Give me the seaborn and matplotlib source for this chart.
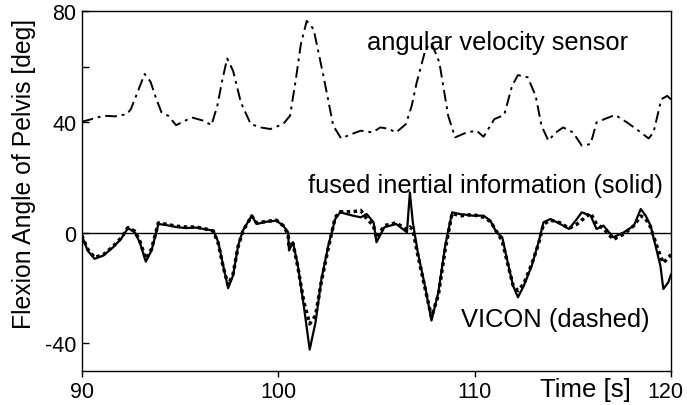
import matplotlib
matplotlib.use("Agg")
import matplotlib.pyplot as plt
import matplotlib.transforms as mtransforms
import seaborn as sns
import pandas as pd

# Angular velocity sensor estimate of pelvis flexion (dash-dot trace)
sensor_time = [90.0, 90.5, 91.1, 91.7, 92.3, 92.5, 92.8, 93.2, 93.5, 93.8, 94.06, 94.4, 94.8,
               95.2, 95.6, 96.2, 96.6, 96.9, 97.15, 97.4, 97.7, 98.1, 98.6, 99.1, 99.6, 100.25,
               100.6, 100.9, 101.15, 101.45, 101.8, 102.3, 102.8, 103.2, 103.7, 104.2, 104.8,
               105.2, 105.6, 106.0, 106.5, 106.8, 107.05, 107.5, 107.8, 108.2, 108.65, 109.0,
               109.6, 110.1, 110.45, 111.0, 111.5, 111.9, 112.2, 112.7, 113.1, 113.4, 113.75,
               114.1, 114.5, 115.0, 115.45, 115.9, 116.2, 116.6, 117.15, 117.75, 118.3, 118.85,
               119.1, 119.5, 119.8, 120.0]
sensor_angle = [40.0, 41.0, 42.2, 42.0, 42.8, 44.6, 50.0, 57.3, 54.5, 48.2, 43.4, 42.2, 38.8,
                40.2, 41.6, 40.4, 38.8, 45.8, 55.0, 62.9, 58.5, 47.0, 39.2, 38.0, 37.4, 39.2,
                42.2, 55.5, 68.0, 76.5, 73.5, 56.6, 38.6, 34.0, 35.5, 36.8, 36.2,
                38.0, 37.5, 36.2, 39.2, 46.0, 54.3, 66.3, 68.5, 61.5, 42.2, 34.4,
                36.2, 36.8, 34.6, 41.0, 42.5, 53.0, 56.9, 56.1, 49.4, 38.6, 33.2,
                36.0, 38.0, 36.2, 31.4, 32.0, 39.8, 41.0, 42.5, 39.8, 37.0, 34.0,
                36.2, 48.2, 49.4, 48.0]

# Fused inertial estimate (solid) and VICON reference (dotted), shared time base
fused_time = [90.0, 90.3, 90.65, 91.1, 91.6, 92.0, 92.35, 92.7, 92.95, 93.26, 93.55, 93.9,
              94.3, 94.8, 95.3, 95.8, 96.2, 96.7, 96.95, 97.2, 97.45, 97.7, 97.96, 98.2,
              98.65, 98.9, 99.4, 99.9, 100.25, 100.5, 100.55, 100.75, 101.0, 101.3, 101.6,
              101.9, 102.2, 102.55, 102.9, 103.15, 103.8, 104.2, 104.5, 104.85, 105.0,
              105.4, 106.0, 106.55, 106.7, 106.85, 107.1, 107.5, 107.8, 108.15, 108.5,
              108.85, 109.25, 109.9, 110.45, 110.8, 111.1, 111.4, 111.6, 111.95, 112.2,
              112.5, 112.9, 113.25, 113.5, 113.85, 114.35, 114.8, 115.2, 115.45, 115.9,
              116.2, 116.55, 117.05, 117.6, 118.1, 118.45, 118.7, 118.95, 119.2, 119.45,
              119.6, 119.85, 120.0]
fused_angle = [-1.0, -6.5, -9.5, -8.3, -5.3, -2.3, 1.6, 0.1, -3.5, -10.5, -6.5, 3.1,
               2.7, 2.0, 1.6, 1.8, 1.3, 0.7, -3.5, -12.0, -20.1, -15.5, -4.7, 0.7,
               6.1, 3.1, 3.9, 4.3, 2.5, 0.1, -6.5, -3.5, -12.0, -26.4, -42.3,
               -32.4, -16.8, -4.7, 4.9, 7.3, 6.1, 5.5, 6.7, 3.7, -3.5,
               1.9, 3.1, 0.1, 14.5, 3.7, -7.1, -20.4, -31.8, -21.6, -4.7,
               7.3, 6.7, 6.1, 6.1, 4.3, 0.1, -1.7, -8.3, -19.2, -23.4,
               -19.2, -12.0, -3.5, 3.7, 4.9, 3.1, 1.3, 4.9, 7.3, 6.1,
               1.3, 2.5, -1.7, 0.1, 2.5, 8.5, 6.1, 2.5, -4.7, -12.0,
               -20.4, -18.0, -15.0]
vicon_angle = [-1.0, -6.0, -9.0, -8.0, -5.0, -2.0, 1.8, 0.5, -3.0, -9.5, -6.0, 3.5,
               3.0, 2.3, 2.0, 2.0, 1.5, 0.5, -4.0, -12.5, -19.0, -15.0, -5.0, 0.5,
               6.0, 3.5, 4.0, 4.5, 2.5, -0.5, -5.0, -4.0, -12.5, -25.0, -33.0,
               -30.0, -17.5, -5.5, 5.5, 7.5, 7.5, 8.0, 5.0, 2.5, -2.0,
               2.5, 3.5, 1.0, 2.0, 1.0, -8.0, -21.0, -30.5, -22.5, -6.0,
               7.0, 6.0, 6.5, 5.5, 4.0, 0.5, -3.0, -9.0, -19.0, -21.0,
               -18.5, -11.5, -4.0, 3.0, 4.5, 3.5, 1.5, 3.0, 4.5, 7.0,
               3.0, 1.5, -2.5, -0.5, 2.5, 6.0, 5.0, 2.0, -3.5, -8.5,
               -11.0, -9.0, -8.0]

x_ticks = [90, 100, 110, 120]
x_tick_labels = ["90", "100", "110", "120"]
y_ticks = [-40, 0, 40, 60, 80]
y_tick_labels = ["-40", "0", "40", "", "80"]

sensor_df = pd.DataFrame({"time": sensor_time, "angle": sensor_angle})
lower_df = pd.DataFrame({"time": fused_time, "fused": fused_angle, "vicon": vicon_angle})

sns.set_style("ticks")
plt.rcParams["font.family"] = ["Liberation Sans", "DejaVu Sans"]
plt.rcParams["text.color"] = "black"
plt.rcParams["axes.labelcolor"] = "black"
plt.rcParams["xtick.color"] = "black"
plt.rcParams["ytick.color"] = "black"

fig = plt.figure(figsize=(6.87, 4.06), dpi=100)
ax = fig.add_axes([0.119, 0.084, 0.858, 0.886])

ax.axhline(0, color="black", lw=1.0, zorder=1)

sns.lineplot(data=sensor_df, x="time", y="angle", ax=ax, color="black", lw=1.4,
             linestyle=(0, (6, 2.5, 1.5, 2.5)), sort=False, estimator=None)
sns.lineplot(data=lower_df, x="time", y="vicon", ax=ax, color="black", lw=2.5,
             linestyle=(0, (1, 1.0)), sort=False, estimator=None)
sns.lineplot(data=lower_df, x="time", y="fused", ax=ax, color="black", lw=1.6,
             linestyle="-", sort=False, estimator=None)

ax.set_xlim(90, 120)
ax.set_ylim(-50, 80)
ax.set_xticks(x_ticks)
ax.set_xticklabels(x_tick_labels, fontsize=15.5)
ax.set_yticks(y_ticks)
ax.set_yticklabels(y_tick_labels, fontsize=15.5)
ax.tick_params(axis="x", direction="out", length=4, width=1, pad=3)
ax.tick_params(axis="y", direction="in", length=5, width=1, pad=4)
for side in ["left", "right", "top", "bottom"]:
    ax.spines[side].set_visible(True)
    ax.spines[side].set_color("black")
    ax.spines[side].set_linewidth(1.0)

# nudge the last x tick label so it stays inside the figure
last = ax.get_xticklabels()[-1]
last.set_transform(last.get_transform() +
                   mtransforms.ScaledTranslation(-6 / 100, 0, fig.dpi_scale_trans))

ax.set_xlabel("")
ax.set_ylabel("")
ax.text(-0.098, 0.55, "Flexion Angle of Pelvis [deg]", transform=ax.transAxes,
        rotation=90, ha="center", va="center", fontsize=17.8)
ax.text(0.778, -0.05, "Time [s]", transform=ax.transAxes,
        ha="left", va="center", fontsize=18.5)

ax.text(104.5, 66.3, "angular velocity sensor", ha="left", va="baseline", fontsize=18.4)
ax.text(101.5, 14.7, "fused inertial information (solid)", ha="left", va="baseline",
        fontsize=18.4)
ax.text(109.3, -33.7, "VICON (dashed)", ha="left", va="baseline", fontsize=18.4)

fig.savefig("out.png", dpi=100)
